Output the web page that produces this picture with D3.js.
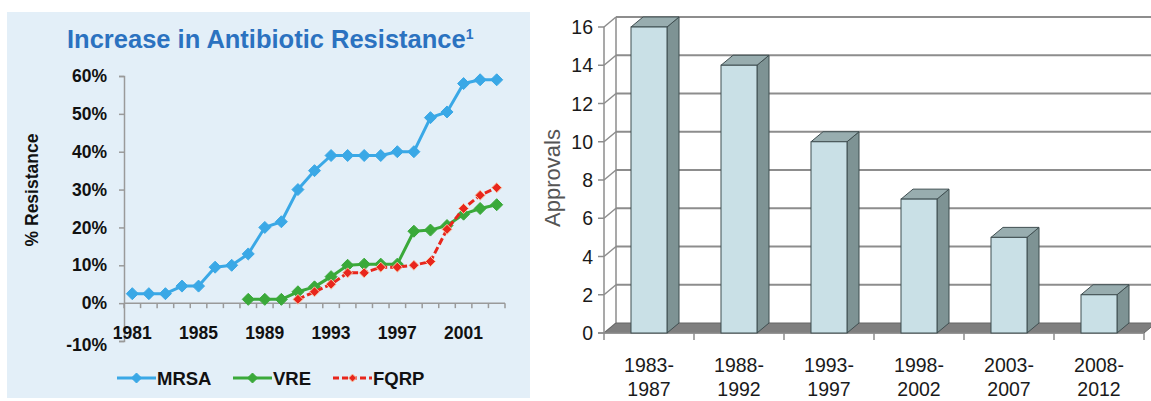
<!DOCTYPE html>
<html>
<head>
<meta charset="utf-8">
<script src="https://cdn.jsdelivr.net/npm/d3@7"></script>
<style>
  html, body { margin: 0; padding: 0; background: #ffffff; }
  svg { display: block; font-family: "Liberation Sans", Arial, Helvetica, sans-serif; }
</style>
</head>
<body>
<svg id="chart" width="1151" height="401"></svg>
<script>
// ---- Resistance trends (percent of isolates) ----
const years = [1981, 1982, 1983, 1984, 1985, 1986, 1987, 1988, 1989, 1990, 1991, 1992,
               1993, 1994, 1995, 1996, 1997, 1998, 1999, 2000, 2001, 2002, 2003];
const yearLabels = [1981, 1985, 1989, 1993, 1997, 2001];
const mrsaYears = years;
const mrsaValues = [2.5, 2.5, 2.5, 4.5, 4.5, 9.5, 10, 13, 20, 21.5, 30, 35,
                    39, 39, 39, 39, 40, 40, 49, 50.5, 58, 59, 59];
const vreYears = [1988, 1989, 1990, 1991, 1992, 1993, 1994, 1995, 1996, 1997,
                  1998, 1999, 2000, 2001, 2002, 2003];
const vreValues = [1, 1, 1, 3, 4.3, 7, 10, 10.3, 10.3, 10.3, 19, 19.3, 20.5, 23.5, 25, 26];
const fqrpYears = [1991, 1992, 1993, 1994, 1995, 1996, 1997, 1998, 1999, 2000, 2001, 2002, 2003];
const fqrpValues = [1, 3, 5, 8, 8, 9.5, 9.5, 10, 11, 19.5, 25, 28.5, 30.5];
const pctTicks = [-10, 0, 10, 20, 30, 40, 50, 60];

// ---- New antibacterial approvals per five-year period ----
const periods = ["1983-1987", "1988-1992", "1993-1997", "1998-2002", "2003-2007", "2008-2012"];
const approvals = [16, 14, 10, 7, 5, 2];
const approvalTicks = [0, 2, 4, 6, 8, 10, 12, 14, 16];

const svg = d3.select("#chart");

/* ================= Left panel: line chart ================= */
const left = svg.append("g");
left.append("rect")
  .attr("x", 7).attr("y", 12).attr("width", 523).attr("height", 386)
  .attr("fill", "#e3eff8");

const title = left.append("text")
  .attr("x", 67).attr("y", 48)
  .attr("fill", "#2b72c0")
  .attr("font-size", 25.5).attr("font-weight", "bold");
title.append("tspan").text("Increase in Antibiotic Resistance");
title.append("tspan").attr("font-size", 14).attr("dy", -9).text("1");

const xL = d3.scaleBand().domain(years).range([124, 505]).padding(0);
const yL = d3.scaleLinear().domain([-10, 60]).range([341, 76]);
const cx = yr => xL(yr) + xL.bandwidth() / 2;

// y axis
const yAxisL = d3.axisLeft(yL).tickValues(pctTicks).tickSize(5).tickFormat(d => d + "%");
const gy = left.append("g").attr("transform", "translate(124,0)").call(yAxisL);
gy.select(".domain").attr("stroke", "#9a9a9a").attr("stroke-width", 1.5);
gy.selectAll(".tick line").attr("stroke", "#9a9a9a").attr("stroke-width", 1.5);
gy.selectAll(".tick text")
  .attr("x", -17).attr("font-size", 17.5).attr("font-weight", "bold")
  .attr("fill", "#111").attr("font-family", "Liberation Sans, Arial, sans-serif");
gy.selectAll(".tick").filter(d => d === -10).select("text").attr("dy", "0.55em");

// x axis at 0%
const y0 = yL(0);
left.append("line")
  .attr("x1", xL.range()[0]).attr("x2", xL.range()[1])
  .attr("y1", y0).attr("y2", y0)
  .attr("stroke", "#9a9a9a").attr("stroke-width", 1.5);
const bounds = years.map(y => xL(y)).concat([xL.range()[1]]);
left.append("g").selectAll("line").data(bounds).join("line")
  .attr("x1", d => d).attr("x2", d => d)
  .attr("y1", y0).attr("y2", y0 + 5)
  .attr("stroke", "#9a9a9a").attr("stroke-width", 1.5);
left.append("g").selectAll("text").data(yearLabels).join("text")
  .attr("x", d => cx(d)).attr("y", 339)
  .attr("text-anchor", "middle")
  .attr("font-size", 17.5).attr("font-weight", "bold").attr("fill", "#111")
  .text(d => d);

left.append("text")
  .attr("transform", "translate(38,190) rotate(-90)")
  .attr("text-anchor", "middle")
  .attr("font-size", 17.5).attr("font-weight", "bold").attr("fill", "#111")
  .text("% Resistance");

const diamond = r => `M0,${-r}L${r},0L0,${r}L${-r},0Z`;
function series(xs, vs, color, width, dash, r, mfill, mstroke) {
  const pts = xs.map((x, i) => [cx(x), yL(vs[i])]);
  const g = left.append("g");
  g.append("path")
    .attr("d", d3.line()(pts))
    .attr("fill", "none").attr("stroke", color)
    .attr("stroke-width", width).attr("stroke-linejoin", "round")
    .attr("stroke-dasharray", dash);
  g.selectAll("path.m").data(pts).join("path").attr("class", "m")
    .attr("transform", d => `translate(${d[0]},${d[1]})`)
    .attr("d", diamond(r))
    .attr("fill", mfill).attr("stroke", mstroke).attr("stroke-width", 1);
}
series(mrsaYears, mrsaValues, "#3aa8e6", 3, null, 6, "#3aa8e6", "#3aa8e6");
series(vreYears, vreValues, "#3aa93a", 3, null, 6, "#3aa93a", "#3aa93a");
series(fqrpYears, fqrpValues, "#e8261c", 3, "7,3", 5, "#e8261c", "#f7c8a8");

// legend
const legend = [
  { name: "MRSA", color: "#3aa8e6", dash: null, r: 5, ms: "#3aa8e6", x: 117 },
  { name: "VRE", color: "#3aa93a", dash: null, r: 5, ms: "#3aa93a", x: 233 },
  { name: "FQRP", color: "#e8261c", dash: "6,3", r: 4, ms: "#f7c8a8", x: 333 }
];
const lg = left.append("g").selectAll("g").data(legend).join("g")
  .attr("transform", d => `translate(${d.x},378)`);
lg.append("line").attr("x1", 0).attr("x2", 39)
  .attr("stroke", d => d.color).attr("stroke-width", 3)
  .attr("stroke-dasharray", d => d.dash);
lg.append("path").attr("transform", "translate(19.5,0)")
  .attr("d", d => diamond(d.r)).attr("fill", d => d.color).attr("stroke", d => d.ms);
lg.append("text").attr("x", 40).attr("y", 6.5)
  .attr("font-size", 18.5).attr("font-weight", "bold").attr("fill", "#111")
  .text(d => d.name);

/* ================= Right panel: 3-D column chart ================= */
const right = svg.append("g");
const dx = 12, dy = -10;
const xR = d3.scaleBand().domain(periods).range([604, 1144]).paddingInner(0.6).paddingOuter(0.3);
const yR = d3.scaleLinear().domain([0, 16]).range([333, 27]);
const step = xR.step();
const x0 = 604, x1 = 1144, base = yR(0);

const clip = right.append("clipPath").attr("id", "rclip");
clip.append("rect").attr("x", 540).attr("y", 0).attr("width", 611).attr("height", 401);
const plot = right.append("g").attr("clip-path", "url(#rclip)");

// back wall gridlines
plot.append("g").selectAll("line").data(approvalTicks.filter(v => v > 0)).join("line")
  .attr("x1", x0 + dx).attr("x2", x1 + dx + 20)
  .attr("y1", d => yR(d) + dy).attr("y2", d => yR(d) + dy)
  .attr("stroke", "#8d8d8d").attr("stroke-width", 2);
// side wall lines
plot.append("g").selectAll("line").data(approvalTicks).join("line")
  .attr("x1", x0).attr("x2", x0 + dx)
  .attr("y1", d => yR(d)).attr("y2", d => yR(d) + dy)
  .attr("stroke", "#8d8d8d").attr("stroke-width", 1.5);
plot.append("line")
  .attr("x1", x0 + dx).attr("x2", x0 + dx)
  .attr("y1", yR(16) + dy).attr("y2", base + dy)
  .attr("stroke", "#8d8d8d").attr("stroke-width", 1.5);

// floor
plot.append("path")
  .attr("d", `M${x0},${base}L${x1},${base}L${x1 + dx},${base + dy}L${x0 + dx},${base + dy}Z`)
  .attr("fill", "#7f7f7f").attr("stroke", "#666").attr("stroke-width", 1);

// front axes
plot.append("line")
  .attr("x1", x0).attr("x2", x0).attr("y1", yR(16)).attr("y2", base)
  .attr("stroke", "#8d8d8d").attr("stroke-width", 1.5);
plot.append("line")
  .attr("x1", x0 - 6).attr("x2", x1).attr("y1", base).attr("y2", base)
  .attr("stroke", "#8d8d8d").attr("stroke-width", 1.5);
plot.append("g").selectAll("line").data(approvalTicks).join("line")
  .attr("x1", x0 - 6).attr("x2", x0)
  .attr("y1", d => yR(d)).attr("y2", d => yR(d))
  .attr("stroke", "#8d8d8d").attr("stroke-width", 1.5);
plot.append("g").selectAll("line").data(d3.range(periods.length + 1)).join("line")
  .attr("x1", i => x0 + i * step).attr("x2", i => x0 + i * step)
  .attr("y1", base).attr("y2", base + 7)
  .attr("stroke", "#8d8d8d").attr("stroke-width", 1.5);

// columns
const bw = xR.bandwidth();
const bars = plot.append("g").selectAll("g").data(periods).join("g");
bars.append("path")
  .attr("d", (p, i) => {
    const x = xR(p) + bw, y = yR(approvals[i]);
    return `M${x},${y}L${x + dx},${y + dy}L${x + dx},${base + dy}L${x},${base}Z`;
  })
  .attr("fill", "#7e9394").attr("stroke", "#3f4e50").attr("stroke-width", 1);
bars.append("path")
  .attr("d", (p, i) => {
    const x = xR(p), y = yR(approvals[i]);
    return `M${x},${y}L${x + dx},${y + dy}L${x + bw + dx},${y + dy}L${x + bw},${y}Z`;
  })
  .attr("fill", "#98adaf").attr("stroke", "#3f4e50").attr("stroke-width", 1);
bars.append("rect")
  .attr("x", p => xR(p)).attr("y", (p, i) => yR(approvals[i]))
  .attr("width", bw).attr("height", (p, i) => base - yR(approvals[i]))
  .attr("fill", "#c9e0e6").attr("stroke", "#3f4e50").attr("stroke-width", 1);

// value axis labels
right.append("g").selectAll("text").data(approvalTicks).join("text")
  .attr("x", 593).attr("y", d => yR(d)).attr("dy", "0.36em")
  .attr("text-anchor", "end").attr("font-size", 19.5).attr("fill", "#1a1a1a")
  .text(d => d);
right.append("text")
  .attr("transform", "translate(560,178) rotate(-90)")
  .attr("text-anchor", "middle").attr("font-size", 22).attr("fill", "#555")
  .text("Approvals");

// category labels on two lines
const cat = right.append("g").selectAll("text").data(periods).join("text")
  .attr("text-anchor", "middle").attr("font-size", 19.5).attr("fill", "#1a1a1a");
cat.append("tspan").attr("x", p => xR(p) + bw / 2).attr("y", 372)
  .text(p => p.split("-")[0] + "-");
cat.append("tspan").attr("x", p => xR(p) + bw / 2).attr("y", 396)
  .text(p => p.split("-")[1]);
</script>
</body>
</html>
